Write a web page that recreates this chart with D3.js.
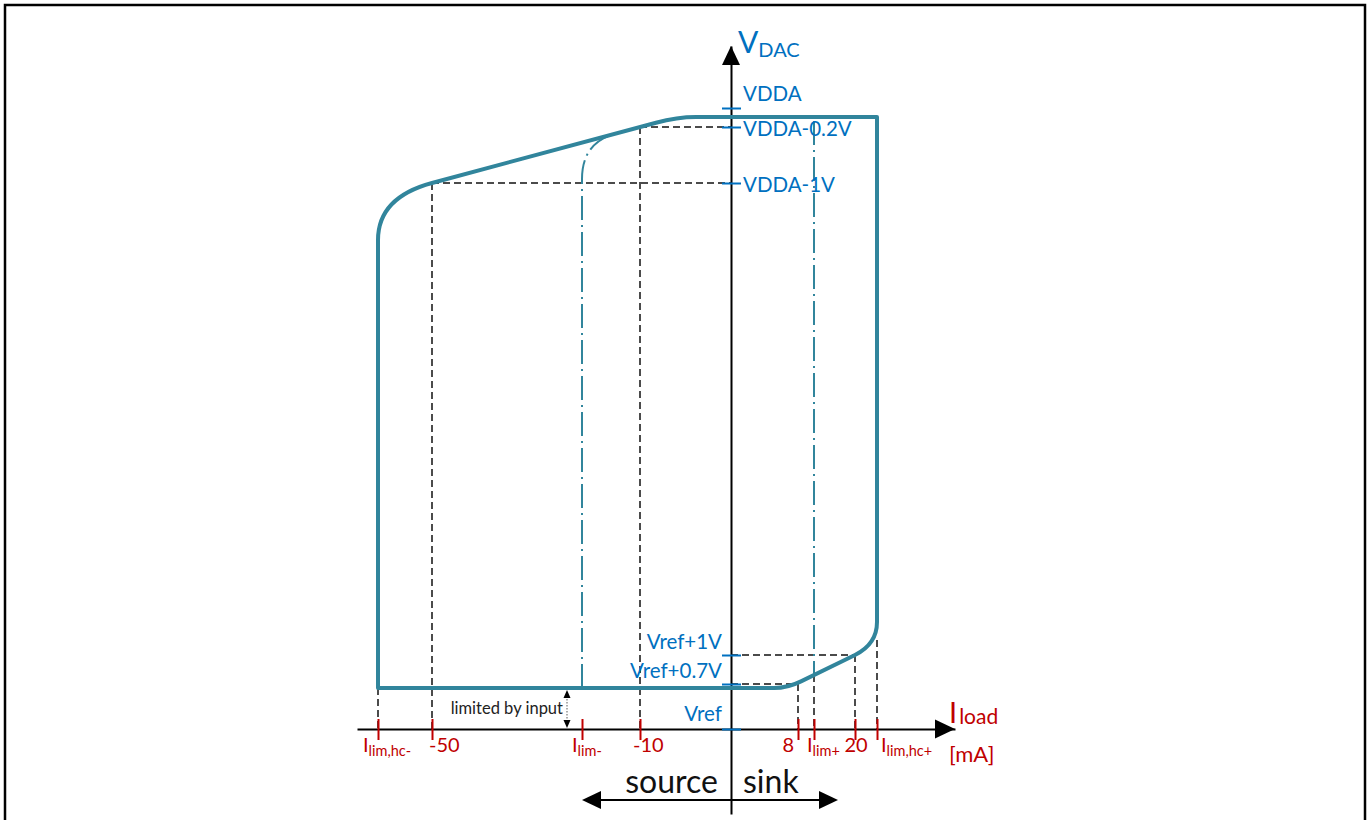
<!DOCTYPE html>
<html><head><meta charset="utf-8">
<script src="https://cdn.jsdelivr.net/npm/d3@7"></script>
<style>
body{margin:0;background:#fff}
svg{display:block}
text{font-family:Lato,"Open Sans",sans-serif}
</style>
</head><body>
<svg id="c" width="1368" height="820"></svg>
<script>
// ---------------- data (schematic units) ----------------
// I_load axis ticks (schematic, not to scale)
const xTickLabels = ["I|lim,hc-", "-50", "I|lim-", "-10", "8", "I|lim+", "20", "I|lim,hc+"];
const xTickPos    = [-70.6, -59.8, -29.8, -18.2, 13.4, 16.6, 24.8, 29.2];
// V_DAC axis ticks
const yTickLabels = ["VDDA", "VDDA-0.2V", "VDDA-1V", "Vref+1V", "Vref+0.7V", "Vref"];
const yTickPos    = [124.2, 120.4, 109.2, 14.8, 9.0, 0];
// operating region outline
const outline = [["M",-70.6,8.2],["L",-70.6,97.8],["Q",-70.6,106.3,-59.8,109.2],
  ["L",-15,121.26],["Q",-10.8,122.4,-7,122.4],["L",29.2,122.4],["L",29.2,21.4],
  ["Q",29.2,17.0,24.8,14.8],["L",14,9.53],["Q",11.3,8.2,8.6,8.2],["Z"]];
// current limit (dash-dot) boundaries
const limitLines = [
  [["M",-29.8,8.2],["L",-29.8,110],["Q",-29.8,117.3,-23,119.1]],
  [["M",16.6,121.6],["L",16.6,10.8]]
];
// dashed guides
const guides = [
  [[-18.2,120.4],[0,120.4]], [[-59.8,109.2],[0,109.2]],
  [[-70.6,8.2],[-70.6,0]], [[-59.8,109.2],[-59.8,0]], [[-18.2,120.4],[-18.2,0]],
  [[0,9.0],[13.4,9.0]], [[13.4,9.0],[13.4,0]], [[16.6,10.8],[16.6,0]],
  [[0,14.8],[24.8,14.8]], [[24.8,14.8],[24.8,0]], [[29.2,17.8],[29.2,0]]
];
const inputLimitSpan = [-32.8, 7.8, 0.2]; // x, top, bottom
const directionSpan = [-29.8, 21.4];        // source .. sink arrow extent
const dirY = -14.2;

// ---------------- styles ----------------
const BLUE = "#0070C0", RED = "#C00000", TEAL = "#31859C";
const xLabelStyle = [["start",-15],["start",-3],["start",-10],["start",-7],["end",-4],["start",-7],["middle",1],["start",4]];
const yLabelStyle = [["right",-7],["right",9],["right",9],["left",-6],["left",-6],["left",-8]];

const svg = d3.select("#c");
const x = d3.scaleLinear().domain([-74.8, 44.8]).range([357, 955]);
const y = d3.scaleLinear().domain([-17, 136.6]).range([814, 46]);

function pathFrom(cmds){
  const p = d3.path();
  cmds.forEach(c=>{
    if(c[0]==="M") p.moveTo(x(c[1]),y(c[2]));
    else if(c[0]==="L") p.lineTo(x(c[1]),y(c[2]));
    else if(c[0]==="Q") p.quadraticCurveTo(x(c[1]),y(c[2]),x(c[3]),y(c[4]));
    else p.closePath();
  });
  return p.toString();
}

// frame
svg.append("rect").attr("x",5).attr("y",5).attr("width",1360).attr("height",830)
  .attr("fill","none").attr("stroke","#000").attr("stroke-width",2.5);

// dashed guides
svg.append("g").selectAll("line").data(guides).join("line")
  .attr("x1",d=>x(d[0][0])).attr("y1",d=>y(d[0][1]))
  .attr("x2",d=>x(d[1][0])).attr("y2",d=>y(d[1][1]))
  .attr("stroke","#111").attr("stroke-width",1.5).attr("stroke-dasharray","7,4");

// dash-dot current limits
svg.append("g").selectAll("path").data(limitLines).join("path")
  .attr("d",pathFrom).attr("fill","none").attr("stroke",TEAL)
  .attr("stroke-width",2).attr("stroke-dasharray","24,5,2,5");

// x axis
const xAxis = svg.append("g").attr("transform",`translate(0,${y(0)})`)
  .call(d3.axisBottom(x).tickValues(xTickPos).tickSize(11).tickSizeOuter(0).tickFormat(""));
xAxis.select(".domain").attr("stroke","#000").attr("stroke-width",2);
xAxis.selectAll(".tick line").attr("y1",-10).attr("y2",11).attr("stroke",RED).attr("stroke-width",2);

// x tick labels
const xl = svg.append("g").selectAll("text").data(xTickLabels).join("text")
  .attr("x",(d,i)=>x(xTickPos[i])+xLabelStyle[i][1]).attr("y",y(0)+23)
  .attr("text-anchor",(d,i)=>xLabelStyle[i][0]).attr("fill",RED).attr("font-size",20);
xl.each(function(d){
  const parts = d.split("|"); const t = d3.select(this);
  t.append("tspan").text(parts[0]);
  if(parts[1]) t.append("tspan").attr("font-size",14.5).attr("dy",4).text(parts[1]);
});

// y axis
const yAxis = svg.append("g").attr("transform",`translate(${x(0)},0)`)
  .call(d3.axisLeft(y).tickValues(yTickPos).tickSize(9).tickSizeOuter(0).tickFormat(""));
yAxis.select(".domain").attr("stroke","#000").attr("stroke-width",2);
yAxis.selectAll(".tick line").attr("x1",-9).attr("x2",10).attr("stroke",BLUE).attr("stroke-width",2);

svg.append("g").selectAll("text").data(yTickLabels).join("text")
  .attr("x",(d,i)=> yLabelStyle[i][0]==="right" ? x(0)+12 : x(0)-9)
  .attr("y",(d,i)=> y(yTickPos[i])+yLabelStyle[i][1])
  .attr("text-anchor",(d,i)=> yLabelStyle[i][0]==="right" ? "start" : "end")
  .attr("fill",BLUE).attr("font-size",20.5).text(d=>d);

// axis arrowheads
const [xr0,xr1] = x.range();
svg.append("path").attr("d",`M${xr1},${y(0)} L${xr1-20},${y(0)-9.5} L${xr1-20},${y(0)+9.5} Z`).attr("fill","#000");
const yTop = y.range()[1];
svg.append("path").attr("d",`M${x(0)},${yTop} L${x(0)-9},${yTop+19} L${x(0)+9},${yTop+19} Z`).attr("fill","#000");

// main outline
svg.append("path").attr("d",pathFrom(outline)).attr("fill","none")
  .attr("stroke",TEAL).attr("stroke-width",4).attr("stroke-linejoin","round");

// axis titles
const vt = svg.append("text").attr("x",x(0)+7).attr("y",yTop+7).attr("fill",BLUE);
vt.append("tspan").attr("font-size",30).text("V");
vt.append("tspan").attr("font-size",20).attr("dy",4).text("DAC");
const it = svg.append("text").attr("x",xr1-6).attr("y",y(0)-6).attr("fill",RED);
it.append("tspan").attr("font-size",29).text("I");
it.append("tspan").attr("font-size",21).attr("dy",1).attr("dx",2).text("load");
svg.append("text").attr("x",xr1-6).attr("y",y(0)+33).attr("fill",RED).attr("font-size",22).text("[mA]");

// limited by input
const [lx,lt,lb] = inputLimitSpan;
svg.append("line").attr("x1",x(lx)).attr("x2",x(lx)).attr("y1",y(lt)+6).attr("y2",y(lb)-6)
  .attr("stroke","#777").attr("stroke-width",1.2).attr("stroke-dasharray","1.5,1.5");
svg.append("path").attr("d",`M${x(lx)},${y(lt)} L${x(lx)-3.5},${y(lt)+8} L${x(lx)+3.5},${y(lt)+8} Z`).attr("fill","#000");
svg.append("path").attr("d",`M${x(lx)},${y(lb)} L${x(lx)-3.5},${y(lb)-8} L${x(lx)+3.5},${y(lb)-8} Z`).attr("fill","#000");
svg.append("text").attr("x",x(lx)-4).attr("y",714).attr("text-anchor","end")
  .attr("font-size",16.5).attr("fill","#222").text("limited by input");

// source / sink arrow
const dy0 = y(dirY), dl = x(directionSpan[0]), dr = x(directionSpan[1]);
svg.append("line").attr("x1",dl+10).attr("x2",dr-10).attr("y1",dy0).attr("y2",dy0).attr("stroke","#000").attr("stroke-width",2);
svg.append("path").attr("d",`M${dl},${dy0} L${dl+19},${dy0-9} L${dl+19},${dy0+9} Z`).attr("fill","#000");
svg.append("path").attr("d",`M${dr},${dy0} L${dr-19},${dy0-9} L${dr-19},${dy0+9} Z`).attr("fill","#000");
svg.append("text").attr("x",x(0)-13).attr("y",dy0-7).attr("text-anchor","end").attr("font-size",32).attr("fill","#111").text("source");
svg.append("text").attr("x",x(0)+12).attr("y",dy0-7).attr("text-anchor","start").attr("font-size",32).attr("fill","#111").text("sink");
</script>
</body></html>
